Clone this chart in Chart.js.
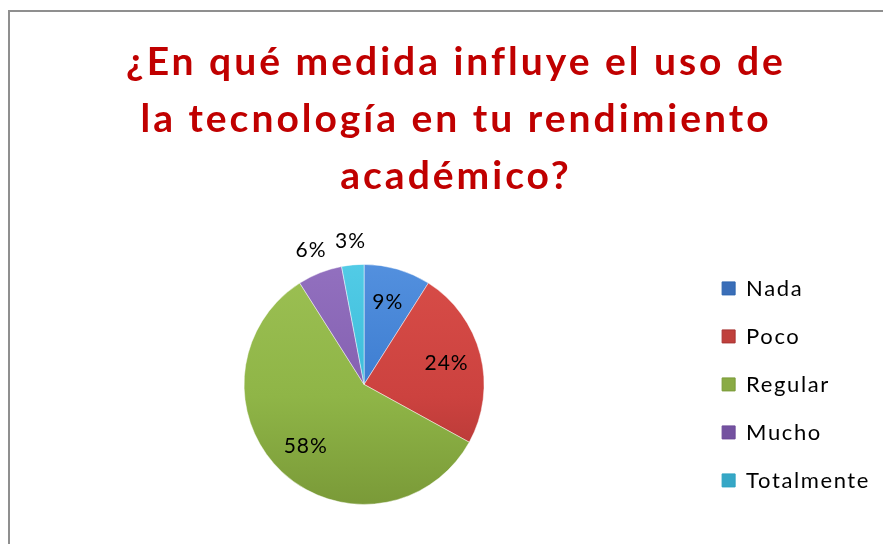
<!DOCTYPE html>
<html>
<head>
<meta charset="utf-8">
<script src="https://cdn.jsdelivr.net/npm/chart.js@4"></script>
<style>
  html, body { margin: 0; padding: 0; background: #fff; overflow: hidden; }
  #box {
    position: absolute; left: 8px; top: 10px;
    width: 892px; height: 560px;
    border: 2px solid #8f8f8f;
  }
</style>
</head>
<body>
<div id="box"><canvas id="chart"></canvas></div>
<script>
const categories = ["Nada", "Poco", "Regular", "Mucho", "Totalmente"];
const values = [9, 24, 58, 6, 3];
const baseColors = ["#3c7cd0", "#cc423f", "#8fb547", "#8460b0", "#3bbcd9"];
const topColors = ["#5390de", "#d84d48", "#9cc053", "#9270bf", "#52cbe6"];
const bottomColors = ["#2e66b0", "#a83331", "#7a9a38", "#6c4a98", "#2ca2c0"];
const legendColors = ["#3a6eb8", "#c0403c", "#8aab45", "#7452a0", "#36a7c6"];

const titleLines = ["¿En qué medida influye el uso de", "la tecnología en tu rendimiento", "académico?"];

function sliceFill(ctx) {
    const chart = ctx.chart;
    const i = ctx.dataIndex;
    const area = chart.chartArea;
    if (!area) return baseColors[i];
    const cy = (area.top + area.bottom) / 2;
    const g = chart.ctx.createLinearGradient(0, cy - 120, 0, cy + 120);
    g.addColorStop(0, topColors[i]);
    g.addColorStop(0.55, baseColors[i]);
    g.addColorStop(1, bottomColors[i]);
    return g;
}

// wider letter spacing for the title and legend text (Calibri-like look)
const spacing = {
    id: "spacing",
    beforeLayout(chart) {
        if (chart.$spaced) return;
        chart.$spaced = true;
        const wrap = (box, name, px) => {
            const orig = box[name].bind(box);
            box[name] = (...args) => {
                chart.ctx.letterSpacing = px;
                const r = orig(...args);
                chart.ctx.letterSpacing = "0px";
                return r;
            };
        };
        wrap(chart.titleBlock, "draw", "3px");
        wrap(chart.legend, "fit", "1.6px");
        wrap(chart.legend, "draw", "1.6px");
    }
};

const percentLabels = {
    id: "percentLabels",
    afterDatasetsDraw(chart) {
        const {ctx} = chart;
        const meta = chart.getDatasetMeta(0);
        const total = values.reduce((a, b) => a + b, 0);
        ctx.save();
        ctx.font = "21px Lato";
        ctx.letterSpacing = "1px";
        ctx.fillStyle = "#000";
        ctx.textAlign = "center";
        ctx.textBaseline = "middle";
        meta.data.forEach((arc, i) => {
            const pct = Math.round(values[i] / total * 100);
            const mid = (arc.startAngle + arc.endAngle) / 2;
            const outside = pct < 7;
            const r = outside ? arc.outerRadius + 24 : arc.outerRadius * 0.71;
            const x = arc.x + Math.cos(mid) * r;
            const y = arc.y + Math.sin(mid) * r;
            ctx.fillText(pct + "%", x, y);
        });
        ctx.restore();
    }
};

new Chart(document.getElementById("chart"), {
    type: "pie",
    data: {
        labels: categories,
        datasets: [{
            data: values,
            backgroundColor: sliceFill,
            borderColor: "rgba(255,255,255,0.45)",
            borderWidth: 1,
            radius: 120
        }]
    },
    options: {
        responsive: true,
        maintainAspectRatio: false,
        animation: false,
        layout: {padding: {left: 22, right: 22, top: 0, bottom: 16}},
        plugins: {
            title: {
                display: true,
                text: titleLines,
                color: "#c00000",
                font: {family: "Lato", size: 39, weight: "bold", lineHeight: 1.46},
                padding: {top: 22, bottom: 8}
            },
            legend: {
                position: "right",
                fullSize: false,
                labels: {
                    font: {family: "Lato", size: 22},
                    color: "#000",
                    boxWidth: 13,
                    boxHeight: 13,
                    padding: 26,
                    generateLabels(chart) {
                        return categories.map((c, i) => ({
                            text: c,
                            fillStyle: legendColors[i],
                            strokeStyle: bottomColors[i],
                            lineWidth: 1,
                            index: i
                        }));
                    }
                }
            },
            tooltip: {enabled: false}
        }
    },
    plugins: [spacing, percentLabels]
});
</script>
</body>
</html>
